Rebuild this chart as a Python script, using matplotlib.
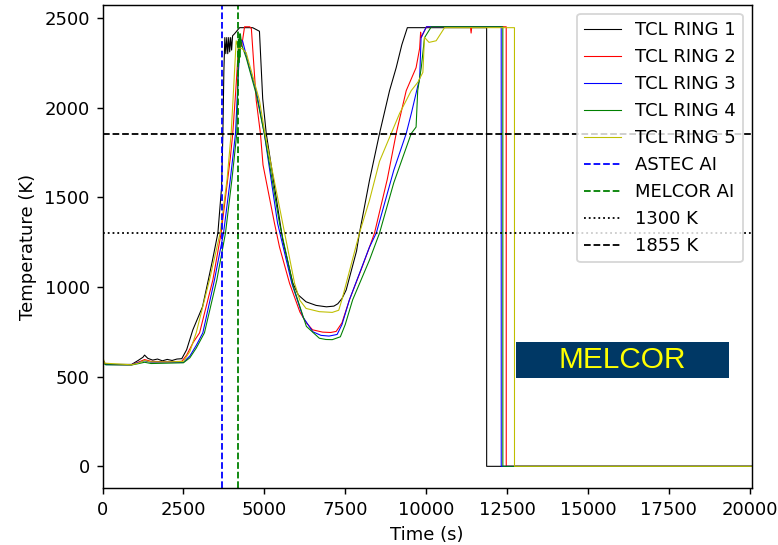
import matplotlib
matplotlib.use("Agg")
import matplotlib.pyplot as plt
from matplotlib.patches import Rectangle

# ring temperatures (time in s, temperature in K)
t1 = [0, 80, 300, 900, 1100, 1250, 1300, 1400, 1550, 1700, 1850, 2000, 2150, 2300, 2450, 2600, 2790, 3090, 3270, 3400, 3565, 3680, 3720, 3750, 3780, 3810, 3840, 3870, 3900, 3930, 3960, 3990, 4020, 4080, 4235, 4640, 4850, 4950, 5060, 5380, 5570, 5880, 6050, 6290, 6600, 6920, 7150, 7270, 7400, 7530, 7850, 7940, 8250, 8560, 8870, 9075, 9250, 9420, 11870, 11871, 20100]
T1 = [600, 572, 568, 568, 590, 608, 620, 602, 592, 598, 588, 596, 590, 598, 600, 650, 760, 889, 1039, 1150, 1300, 1556, 1855, 2200, 2390, 2300, 2390, 2300, 2390, 2310, 2390, 2320, 2400, 2411, 2445, 2445, 2425, 2050, 1855, 1483, 1261, 1022, 955, 917, 897, 889, 893, 906, 935, 983, 1200, 1300, 1594, 1855, 2094, 2222, 2350, 2445, 2445, 0, 0]

t2 = [0, 100, 900, 1100, 1300, 1500, 2000, 2450, 2600, 2800, 3000, 3410, 3665, 3800, 3950, 4025, 4120, 4200, 4260, 4300, 4390, 4550, 4600, 4750, 4880, 4960, 5315, 5470, 5780, 6100, 6300, 6490, 6800, 7050, 7220, 7400, 7630, 8000, 8250, 8405, 8800, 9075, 9385, 9690, 9800, 9830, 9850, 10010, 11370, 11390, 11410, 12475, 12476, 20100]
T2 = [590, 568, 566, 580, 595, 585, 583, 585, 620, 690, 744, 1039, 1300, 1500, 1720, 1855, 2100, 2330, 2380, 2340, 2450, 2450, 2440, 2040, 1855, 1680, 1354, 1222, 1020, 860, 800, 761, 748, 746, 752, 800, 928, 1100, 1222, 1300, 1600, 1855, 2094, 2222, 2330, 2420, 2390, 2450, 2450, 2415, 2450, 2450, 0, 0]

t3 = [0, 100, 900, 1100, 1300, 1500, 2000, 2500, 2700, 2900, 3100, 3460, 3740, 3950, 4110, 4200, 4260, 4330, 4540, 4750, 5000, 5410, 5850, 6200, 6500, 6750, 7000, 7250, 7400, 7630, 8250, 8460, 9000, 9385, 9540, 9560, 9745, 9800, 9845, 10010, 12320, 12321, 20100]
T3 = [585, 567, 566, 578, 588, 580, 580, 580, 615, 675, 744, 1039, 1300, 1600, 1855, 2200, 2380, 2370, 2222, 2094, 1855, 1355, 1020, 830, 750, 730, 726, 735, 790, 928, 1222, 1300, 1650, 1855, 1965, 1980, 2122, 2160, 2391, 2450, 2450, 0, 0]

t4 = [0, 100, 900, 1100, 1300, 1500, 2000, 2500, 2700, 2900, 3150, 3533, 3800, 4000, 4150, 4180, 4200, 4215, 4230, 4245, 4260, 4300, 4440, 4750, 5000, 5470, 5900, 6300, 6700, 6900, 7100, 7350, 7500, 7730, 8250, 8560, 9000, 9540, 9690, 9740, 9850, 9950, 10160, 12370, 12371, 20100]
T4 = [580, 566, 565, 572, 580, 573, 575, 577, 605, 660, 744, 1039, 1300, 1600, 1855, 2100, 2380, 2250, 2410, 2280, 2411, 2350, 2278, 2074, 1855, 1354, 1000, 780, 714, 707, 706, 722, 790, 928, 1150, 1300, 1580, 1855, 1891, 2094, 2222, 2389, 2450, 2450, 0, 0]

t5 = [0, 60, 900, 1100, 1300, 1500, 2000, 2500, 2700, 2895, 3306, 3635, 3850, 3975, 4050, 4130, 4200, 4300, 4440, 4850, 5020, 5470, 5935, 6100, 6290, 6700, 7100, 7300, 7400, 7940, 8250, 8560, 8920, 9180, 9540, 9745, 9900, 9950, 10090, 10310, 10570, 12730, 12731, 20100]
T5 = [620, 575, 566, 575, 590, 582, 582, 585, 640, 744, 1039, 1300, 1600, 1855, 2100, 2372, 2330, 2330, 2306, 2040, 1855, 1444, 1020, 925, 880, 862, 858, 870, 930, 1300, 1483, 1700, 1855, 1967, 2094, 2141, 2196, 2391, 2363, 2372, 2445, 2445, 0, 0]

astec_ai = 3700
melcor_ai = 4200
limits = [1300, 1855]

fig = plt.figure(figsize=(778 / 130, 545 / 130), dpi=130)
ax = fig.add_axes([102.5 / 778, 56.7 / 545, 649.5 / 778, 483.5 / 545])

ax.plot(t1, T1, color='k', lw=0.6, label='TCL RING 1')
ax.plot(t2, T2, color='r', lw=0.6, label='TCL RING 2')
ax.plot(t3, T3, color='b', lw=0.6, label='TCL RING 3')
ax.plot(t4, T4, color='g', lw=0.6, label='TCL RING 4')
ax.plot(t5, T5, color='y', lw=0.6, label='TCL RING 5')

ax.axvline(astec_ai, color='b', ls='--', lw=1, label='ASTEC AI')
ax.axvline(melcor_ai, color='g', ls='--', lw=1, label='MELCOR AI')
ax.axhline(limits[0], color='k', ls=':', lw=1, label='1300 K')
ax.axhline(limits[1], color='k', ls='--', lw=1, label='1855 K')

ax.set_xlim(0, 20070)
ax.set_ylim(-122.5, 2572.5)
ax.set_xlabel('Time (s)')
ax.set_ylabel('Temperature (K)')
ax.legend(loc='upper right')

# code label box
ax.add_patch(Rectangle((0.6366, 0.228), 0.328, 0.0745, transform=ax.transAxes,
                       facecolor='#003865', edgecolor='none', zorder=5))
ax.text(0.80, 0.266, 'MELCOR', transform=ax.transAxes, ha='center', va='center',
        color='#ffff00', fontsize=16.5, family='Liberation Sans', zorder=6)

fig.savefig('out.png', dpi=130)
